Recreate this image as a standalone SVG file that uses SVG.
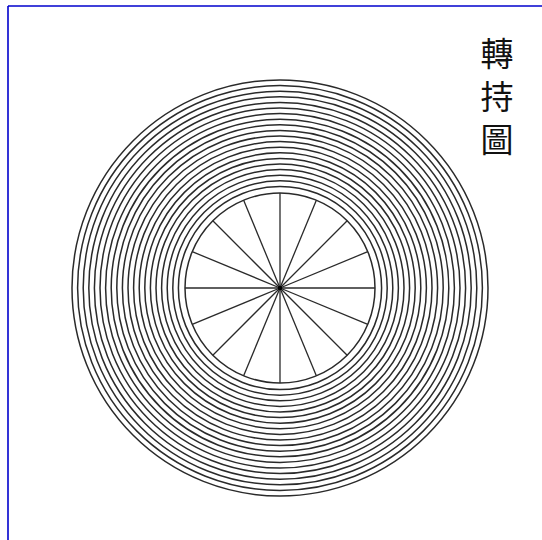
<svg xmlns="http://www.w3.org/2000/svg" width="542" height="540" viewBox="0 0 542 540">
  <style>
    .ring { fill: none; stroke: #2a2a2a; stroke-width: 1.5; }
    .spoke { stroke: #2a2a2a; stroke-width: 1.3; }
    .title { font-family: "Noto Sans CJK TC", "Noto Sans CJK SC", serif; font-size: 33px; fill: #111; }
  </style>
  <rect x="0" y="0" width="542" height="540" fill="#fff"/>
  <g id="frame" stroke="#0000cc" stroke-width="1.6" fill="none">
    <line x1="8" y1="6" x2="542" y2="6"/>
    <line x1="8" y1="6" x2="8" y2="540"/>
  </g>
  <g id="rings">
    <circle class="ring" cx="280" cy="288" r="101.6"/>
    <circle class="ring" cx="280" cy="288" r="107.2"/>
    <circle class="ring" cx="280" cy="288" r="112.8"/>
    <circle class="ring" cx="280" cy="288" r="118.4"/>
    <circle class="ring" cx="280" cy="288" r="124"/>
    <circle class="ring" cx="280" cy="288" r="129.6"/>
    <circle class="ring" cx="280" cy="288" r="135.2"/>
    <circle class="ring" cx="280" cy="288" r="140.8"/>
    <circle class="ring" cx="280" cy="288" r="146.4"/>
    <circle class="ring" cx="280" cy="288" r="152"/>
    <circle class="ring" cx="280" cy="288" r="157.6"/>
    <circle class="ring" cx="280" cy="288" r="163.2"/>
    <circle class="ring" cx="280" cy="288" r="168.8"/>
    <circle class="ring" cx="280" cy="288" r="174.4"/>
    <circle class="ring" cx="280" cy="288" r="180"/>
    <circle class="ring" cx="280" cy="288" r="185.6"/>
    <circle class="ring" cx="280" cy="288" r="191.2"/>
    <circle class="ring" cx="280" cy="288" r="196.8"/>
    <circle class="ring" cx="280" cy="288" r="202.4"/>
    <circle class="ring" cx="280" cy="288" r="208"/>
  </g>
  <g id="wheel">
    <circle class="ring" cx="280" cy="288" r="95"/>
    <g transform="translate(280 288)">
      <line class="spoke" x1="0" y1="0" x2="0" y2="-95"/>
      <line class="spoke" x1="0" y1="0" x2="0" y2="-95" transform="rotate(22.5)"/>
      <line class="spoke" x1="0" y1="0" x2="0" y2="-95" transform="rotate(45)"/>
      <line class="spoke" x1="0" y1="0" x2="0" y2="-95" transform="rotate(67.5)"/>
      <line class="spoke" x1="0" y1="0" x2="0" y2="-95" transform="rotate(90)"/>
      <line class="spoke" x1="0" y1="0" x2="0" y2="-95" transform="rotate(112.5)"/>
      <line class="spoke" x1="0" y1="0" x2="0" y2="-95" transform="rotate(135)"/>
      <line class="spoke" x1="0" y1="0" x2="0" y2="-95" transform="rotate(157.5)"/>
      <line class="spoke" x1="0" y1="0" x2="0" y2="-95" transform="rotate(180)"/>
      <line class="spoke" x1="0" y1="0" x2="0" y2="-95" transform="rotate(202.5)"/>
      <line class="spoke" x1="0" y1="0" x2="0" y2="-95" transform="rotate(225)"/>
      <line class="spoke" x1="0" y1="0" x2="0" y2="-95" transform="rotate(247.5)"/>
      <line class="spoke" x1="0" y1="0" x2="0" y2="-95" transform="rotate(270)"/>
      <line class="spoke" x1="0" y1="0" x2="0" y2="-95" transform="rotate(292.5)"/>
      <line class="spoke" x1="0" y1="0" x2="0" y2="-95" transform="rotate(315)"/>
      <line class="spoke" x1="0" y1="0" x2="0" y2="-95" transform="rotate(337.5)"/>
      <circle cx="0" cy="0" r="2.2" fill="#000"/>
    </g>
  </g>
  <g id="title">
    <text class="title" x="497" y="37" writing-mode="vertical-rl" letter-spacing="10">轉持圖</text>
  </g>
</svg>
